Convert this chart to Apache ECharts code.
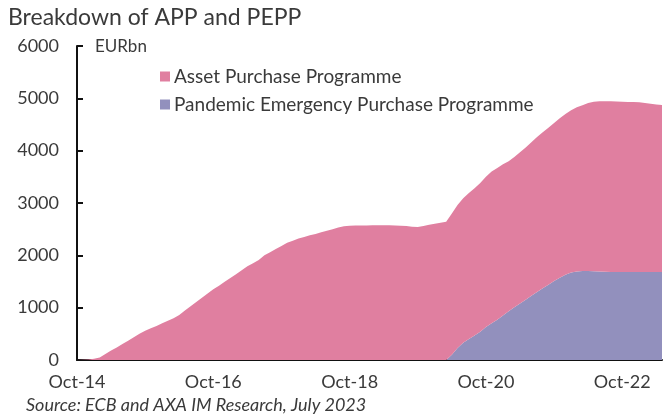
<!DOCTYPE html>
<html>
<head>
<meta charset="utf-8">
<script src="https://cdn.jsdelivr.net/npm/echarts@6/dist/echarts.min.js"></script>
<style>
  html, body { margin: 0; padding: 0; background: #fff; }
  #chart { width: 668px; height: 419px; }
</style>
</head>
<body>
<div id="chart"></div>
<script>
// monthly, Oct-14 .. May-23
var startYear = 2014, startMonth = 9, nMonths = 104;
var monthNames = ['Jan', 'Feb', 'Mar', 'Apr', 'May', 'Jun', 'Jul', 'Aug', 'Sep', 'Oct', 'Nov', 'Dec'];
var months = [];
for (var i = 0; i < nMonths; i++) {
    var mm = (startMonth + i) % 12;
    var yy = startYear + Math.floor((startMonth + i) / 12);
    months.push(monthNames[mm] + '-' + String(yy).slice(2));
}

// EURbn
var appValues = [
    0, 5, 10, 25, 50, 115, 180, 240, 305, 370, 435, 500,
    560, 605, 650, 700, 750, 800, 860, 945, 1025, 1110, 1190, 1270,
    1350, 1420, 1495, 1565, 1640, 1715, 1790, 1850, 1910, 2000, 2060, 2120,
    2180, 2240, 2280, 2320, 2350, 2385, 2410, 2440, 2470, 2500, 2530, 2555,
    2565, 2570, 2570, 2570, 2575, 2575, 2575, 2575, 2570, 2565, 2560, 2545,
    2540, 2560, 2585, 2605, 2625, 2640, 2700, 2730, 2760, 2790, 2810, 2840,
    2870, 2900, 2900, 2890, 2870, 2870, 2890, 2910, 2930, 2960, 2980, 3000,
    3020, 3050, 3070, 3100, 3140, 3170, 3210, 3240, 3255, 3260, 3265, 3260,
    3255, 3250, 3250, 3245, 3230, 3215, 3200, 3195
];
var peppValues = [
    0, 0, 0, 0, 0, 0, 0, 0, 0, 0, 0, 0,
    0, 0, 0, 0, 0, 0, 0, 0, 0, 0, 0, 0,
    0, 0, 0, 0, 0, 0, 0, 0, 0, 0, 0, 0,
    0, 0, 0, 0, 0, 0, 0, 0, 0, 0, 0, 0,
    0, 0, 0, 0, 0, 0, 0, 0, 0, 0, 0, 0,
    0, 0, 0, 0, 0, 0, 100, 230, 330, 400, 470, 540,
    630, 700, 770, 850, 930, 1010, 1080, 1150, 1230, 1300, 1370, 1440,
    1510, 1570, 1630, 1670, 1690, 1700, 1700, 1695, 1690, 1685, 1680, 1680,
    1680, 1680, 1680, 1680, 1680, 1680, 1680, 1680
];
var yTicks = [0, 1000, 2000, 3000, 4000, 5000, 6000];

var chart = echarts.init(document.getElementById('chart'), null, { renderer: 'canvas' });
var textColor = '#3a3a3a';
var font = 'Lato, "Liberation Sans", sans-serif';

var option = {
    backgroundColor: '#fff',
    animation: false,
    title: {
        text: 'Breakdown of APP and PEPP',
        left: 3,
        top: 1,
        textStyle: { fontFamily: font, fontWeight: 'normal', fontSize: 23, color: textColor }
    },
    legend: {
        data: ['Asset Purchase Programme', 'Pandemic Emergency Purchase Programme'],
        orient: 'vertical',
        left: 155,
        top: 62,
        itemGap: 9,
        itemWidth: 10,
        itemHeight: 10,
        icon: 'rect',
        textStyle: { fontFamily: font, fontSize: 19, color: textColor, padding: [0, 0, 0, -1] }
    },
    graphic: [
        {
            type: 'text', left: 95, top: 38,
            style: { text: 'EURbn', font: '17px ' + font, fill: textColor }
        },
        {
            type: 'text', left: 26, top: 396,
            style: { text: 'Source: ECB and AXA IM Research, July 2023', font: 'italic 18px ' + font, fill: textColor }
        }
    ],
    grid: { left: 77, right: 6, top: 46, bottom: 59 },
    xAxis: {
        type: 'category',
        data: months,
        boundaryGap: false,
        axisLine: { lineStyle: { color: '#111', width: 2 } },
        axisTick: { inside: true, interval: 11, length: 5, lineStyle: { color: '#111', width: 2 } },
        axisLabel: {
            interval: 23, margin: 13,
            fontFamily: font, fontSize: 18, color: textColor
        },
        splitLine: { show: false }
    },
    yAxis: {
        type: 'value',
        min: yTicks[0],
        max: yTicks[yTicks.length - 1],
        interval: 1000,
        axisLine: { show: true, lineStyle: { color: '#111', width: 2 } },
        axisTick: { show: true, inside: true, length: 6, lineStyle: { color: '#111', width: 2 } },
        axisLabel: {
            margin: 18, fontFamily: font, fontSize: 18, color: textColor,
            formatter: function (value) { return String(value); }
        },
        splitLine: { show: false }
    },
    series: [
        {
            name: 'Pandemic Emergency Purchase Programme',
            type: 'line',
            stack: 'total',
            data: peppValues,
            symbol: 'none',
            lineStyle: { width: 0 },
            itemStyle: { color: '#9290bd' },
            areaStyle: { color: '#9290bd', opacity: 1 },
            z: 1
        },
        {
            name: 'Asset Purchase Programme',
            type: 'line',
            stack: 'total',
            data: appValues,
            symbol: 'none',
            lineStyle: { width: 0 },
            itemStyle: { color: '#e07fa0' },
            areaStyle: { color: '#e07fa0', opacity: 1 },
            z: 1
        }
    ]
};

option && chart.setOption(option);
window.addEventListener('resize', function () {
    chart.resize();
});
</script>
</body>
</html>
